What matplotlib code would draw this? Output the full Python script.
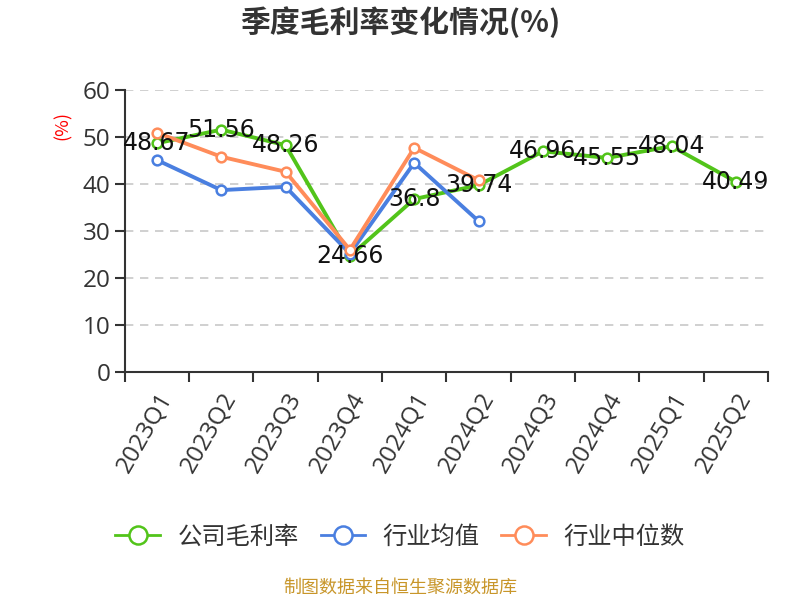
import numpy as np
import matplotlib.pyplot as plt

plt.rcParams['font.family'] = ['Noto Sans CJK SC', 'DejaVu Sans']

quarters = ['2023Q1', '2023Q2', '2023Q3', '2023Q4', '2024Q1', '2024Q2',
            '2024Q3', '2024Q4', '2025Q1', '2025Q2']
company = [48.67, 51.56, 48.26, 24.66, 36.8, 39.74, 46.96, 45.55, 48.04, 40.49]
ind_mean = [45.1, 38.7, 39.4, 25.2, 44.5, 32.1]
ind_median = [50.9, 45.8, 42.6, 26.0, 47.7, 40.8]

green = '#52c41a'
blue = '#4a7fe0'
orange = '#ff8c5a'

fig = plt.figure(figsize=(8, 6), dpi=100)
ax = fig.add_axes([0.156, 0.38, 0.804, 0.47])

x = np.arange(len(quarters))
mk = dict(marker='o', markersize=7, markerfacecolor='white', markeredgewidth=1.8, linewidth=2.8)
ax.plot(x, company, color=green, markeredgecolor=green, label='公司毛利率', zorder=3, **mk)
ax.plot(x[:len(ind_mean)], ind_mean, color=blue, markeredgecolor=blue, label='行业均值', zorder=4, **mk)
ax.plot(x[:len(ind_median)], ind_median, color=orange, markeredgecolor=orange, label='行业中位数', zorder=5, **mk)

for xi, v in zip(x, company):
    ax.text(xi, v, f'{v:g}', ha='center', va='center', fontsize=17,
            family='DejaVu Sans', color='#111111', zorder=6)

ax.set_xlim(-0.5, len(quarters) - 0.5)
ax.set_ylim(0, 60)
ax.set_yticks(range(0, 61, 10))
ax.set_xticks(x)
ax.set_xticklabels(quarters, rotation=60, ha='right', rotation_mode='anchor')
ax.set_xticks(np.arange(-0.5, len(quarters)), minor=True)
ax.tick_params(axis='x', which='major', length=0, pad=12, labelsize=17.5, labelcolor='#333333')
ax.tick_params(axis='x', which='minor', length=7, width=1.5, color='#333333')
ax.tick_params(axis='y', length=7, width=1.5, color='#333333', labelsize=17.5, labelcolor='#333333')
for lab in ax.get_xticklabels() + ax.get_yticklabels():
    lab.set_family(['Open Sans', 'DejaVu Sans'])

for v in range(10, 61, 10):
    ax.axhline(v, color='#c8c8c8', linestyle=(0, (5, 4)), linewidth=1.2, zorder=1)

for s in ['top', 'right']:
    ax.spines[s].set_visible(False)
for s in ['left', 'bottom']:
    ax.spines[s].set_color('#333333')
    ax.spines[s].set_linewidth(1.5)

fig.text(0.079, 0.79, '(%)', color='red', rotation=90, fontsize=13, ha='center', va='center')
fig.text(0.5, 0.963, '季度毛利率变化情况(%)', fontsize=21.5, fontweight='bold',
         color='#333333', ha='center', va='center')

leg = fig.legend(loc='center', bbox_to_anchor=(0.5, 0.105), ncol=3, frameon=False,
                 fontsize=17.5, handlelength=1.85, columnspacing=0.9, handletextpad=0.7,
                 labelcolor='#333333')
for h in leg.legend_handles:
    h.set_markersize(13)
    h.set_linewidth(2)
fig.text(0.5, 0.02, '制图数据来自恒生聚源数据库', color='#c8962a', fontsize=13,
         ha='center', va='center')

plt.savefig('out.png', dpi=100)
